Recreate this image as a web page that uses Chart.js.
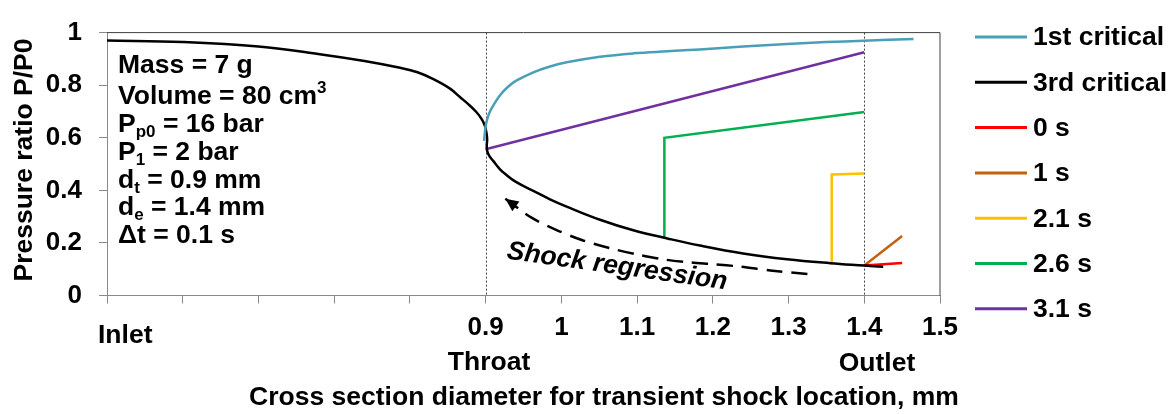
<!DOCTYPE html>
<html><head><meta charset="utf-8">
<style>html,body{margin:0;padding:0;background:#fff;}#wrap{width:1175px;height:414px;}</style>
<script src="https://cdn.jsdelivr.net/npm/chart.js@4.4.0/dist/chart.umd.min.js"></script>
</head><body><div id="wrap"><canvas id="c" width="1175" height="414"></canvas></div>
<script>
const FONT = '"Liberation Sans", Arial, sans-serif';

// ---- data ----
const seriesLabels = ['1st critical', '3rd critical', '0 s', '1 s', '2.1 s', '2.6 s', '3.1 s'];
const seriesColors = ['#4a9fb8', '#000000', '#ff0000', '#c5600e', '#ffc000', '#00b050', '#7030a0'];

const firstCritX = [0.898, 0.899, 0.9, 0.902, 0.905, 0.91, 0.919, 0.93, 0.941, 0.963, 0.985, 1.007, 1.051, 1.095, 1.14, 1.183, 1.24, 1.298, 1.35, 1.399, 1.465];
const firstCritY = [0.588, 0.62, 0.645, 0.67, 0.695, 0.722, 0.762, 0.795, 0.818, 0.849, 0.871, 0.887, 0.908, 0.921, 0.929, 0.936, 0.947, 0.957, 0.964, 0.969, 0.976];

const thirdCritX = [0.4, 0.5, 0.6, 0.681, 0.74, 0.787, 0.81, 0.831, 0.853, 0.866, 0.877, 0.888, 0.895, 0.899, 0.901, 0.902, 0.9015, 0.902, 0.905, 0.91, 0.919, 0.926, 0.94, 0.963, 0.985, 1.007, 1.051, 1.095, 1.14, 1.183, 1.24, 1.298, 1.355, 1.4, 1.425];
const thirdCritY = [0.970, 0.964, 0.947, 0.918, 0.892, 0.866, 0.849, 0.823, 0.787, 0.755, 0.728, 0.697, 0.67, 0.645, 0.62, 0.595, 0.572, 0.55, 0.53, 0.512, 0.48, 0.462, 0.432, 0.398, 0.366, 0.338, 0.288, 0.248, 0.217, 0.19, 0.16, 0.138, 0.123, 0.114, 0.109];

const t0X = [1.4, 1.45];            const t0Y = [0.114, 0.124];
const t1X = [1.4, 1.45];            const t1Y = [0.114, 0.226];
const t21X = [1.357, 1.357, 1.4];   const t21Y = [0.119, 0.46, 0.464];
const t26X = [1.136, 1.136, 1.4];   const t26Y = [0.222, 0.600, 0.698];
const t31X = [0.9, 1.4];            const t31Y = [0.556, 0.925];

// "Shock regression" dashed arrow path
const shockX = [0.926, 0.96, 0.993, 1.026, 1.064, 1.099, 1.133, 1.169, 1.2, 1.236, 1.276, 1.33];
const shockY = [0.368, 0.297, 0.25, 0.212, 0.18, 0.157, 0.138, 0.126, 0.119, 0.11, 0.095, 0.08];

const xTickValues = [0.9, 1.0, 1.1, 1.2, 1.3, 1.4, 1.5];
const xTickLabels = ['0.9', '1', '1.1', '1.2', '1.3', '1.4', '1.5'];
const yTickValues = [0, 0.2, 0.4, 0.6, 0.8, 1.0];
const yTickLabels = ['0', '0.2', '0.4', '0.6', '0.8', '1'];
const markerLines = [0.9, 1.4];

const seriesX = [firstCritX, thirdCritX, t0X, t1X, t21X, t26X, t31X];
const seriesY = [firstCritY, thirdCritY, t0Y, t1Y, t21Y, t26Y, t31Y];
const tensions = [0.4, 0.4, 0, 0, 0, 0, 0];

function pts(xs, ys) { return xs.map((x, i) => ({ x: x, y: ys[i] })); }

const datasets = seriesLabels.map((lab, i) => ({
  label: lab, data: pts(seriesX[i], seriesY[i]), borderColor: seriesColors[i],
  backgroundColor: seriesColors[i], showLine: true, pointRadius: 0, borderWidth: 2.5,
  tension: tensions[i], fill: false, inLegend: true
}));
datasets.push({
  label: 'shock', data: pts(shockX, shockY), borderColor: '#000', showLine: true,
  pointRadius: 0, borderWidth: 2.5, borderDash: [16, 9], tension: 0.3, fill: false, inLegend: false
});

function matchLabel(v, vals, labs) {
  for (let i = 0; i < vals.length; i++) if (Math.abs(v - vals[i]) < 1e-6) return labs[i];
  return '';
}

function rich(ctx, x, y, parts, size) {
  let cx = x;
  for (const p of parts) {
    const s = p.s ? Math.round(size * 0.66) : size;
    ctx.font = 'bold ' + s + 'px ' + FONT;
    const dy = p.s === 'sub' ? 5 : (p.s === 'sup' ? -11 : 0);
    ctx.fillText(p.t, cx, y + dy);
    cx += ctx.measureText(p.t).width;
  }
}

const deco = {
  id: 'deco',
  beforeDatasetsDraw(chart) {
    const ctx = chart.ctx, a = chart.chartArea, xs = chart.scales.x;
    ctx.save();
    ctx.strokeStyle = '#444'; ctx.lineWidth = 1; ctx.setLineDash([2, 2]);
    markerLines.forEach(v => {
      const px = Math.round(xs.getPixelForValue(v)) + 0.5;
      ctx.beginPath(); ctx.moveTo(px, a.top); ctx.lineTo(px, a.bottom); ctx.stroke();
    });
    ctx.restore();
  },
  afterDraw(chart) {
    const ctx = chart.ctx, a = chart.chartArea, xs = chart.scales.x, ys = chart.scales.y;
    ctx.save();
    // top / right frame
    ctx.strokeStyle = '#404040'; ctx.lineWidth = 1;
    ctx.beginPath(); ctx.moveTo(a.left, a.top); ctx.lineTo(a.right, a.top); ctx.lineTo(a.right, a.bottom); ctx.stroke();

    // arrow head
    const p0 = { x: xs.getPixelForValue(shockX[0]), y: ys.getPixelForValue(shockY[0]) };
    const p1 = { x: xs.getPixelForValue(shockX[1]), y: ys.getPixelForValue(shockY[1]) };
    const ang = Math.atan2(p0.y - p1.y, p0.x - p1.x);
    ctx.fillStyle = '#000';
    ctx.beginPath();
    ctx.moveTo(p0.x, p0.y);
    ctx.lineTo(p0.x - 13 * Math.cos(ang) + 6 * Math.sin(ang), p0.y - 13 * Math.sin(ang) - 6 * Math.cos(ang));
    ctx.lineTo(p0.x - 13 * Math.cos(ang) - 6 * Math.sin(ang), p0.y - 13 * Math.sin(ang) + 6 * Math.cos(ang));
    ctx.closePath(); ctx.fill();

    // shock regression text
    ctx.save();
    ctx.translate(616, 274);
    ctx.rotate(8 * Math.PI / 180);
    ctx.font = 'italic bold 26.5px ' + FONT;
    ctx.textAlign = 'center'; ctx.textBaseline = 'alphabetic';
    ctx.fillText('Shock regression', 0, 0);
    ctx.restore();

    // parameter block
    ctx.fillStyle = '#000'; ctx.textAlign = 'left'; ctx.textBaseline = 'alphabetic';
    const lines = [
      [[{ t: 'Mass = 7 g' }], 72.5],
      [[{ t: 'Volume = 80 cm' }, { t: '3', s: 'sup' }], 104],
      [[{ t: 'P' }, { t: 'p0', s: 'sub' }, { t: ' = 16 bar' }], 132],
      [[{ t: 'P' }, { t: '1', s: 'sub' }, { t: ' = 2 bar' }], 160],
      [[{ t: 'd' }, { t: 't', s: 'sub' }, { t: ' = 0.9 mm' }], 187.5],
      [[{ t: 'd' }, { t: 'e', s: 'sub' }, { t: ' = 1.4 mm' }], 215],
      [[{ t: '\u0394t = 0.1 s' }], 243]
    ];
    lines.forEach(l => rich(ctx, 118, l[1], l[0], 26.5));

    // location labels
    ctx.font = 'bold 26.5px ' + FONT;
    ctx.textAlign = 'left'; ctx.fillText('Inlet', 98, 343);
    ctx.textAlign = 'center';
    ctx.fillText('Throat', 489, 370);
    ctx.fillText('Outlet', 877, 371);
    // axis titles
    ctx.fillText('Cross section diameter for transient shock location, mm', 604, 405);
    ctx.save();
    ctx.translate(32, 160); ctx.rotate(-Math.PI / 2);
    ctx.fillText('Pressure ratio P/P0', 0, 0);
    ctx.restore();

    // legend
    ctx.textAlign = 'left'; ctx.textBaseline = 'middle';
    let k = 0;
    chart.data.datasets.forEach(ds => {
      if (!ds.inLegend) return;
      const y = 37 + k * 45.3;
      ctx.strokeStyle = ds.borderColor; ctx.lineWidth = 3; ctx.setLineDash([]);
      ctx.beginPath(); ctx.moveTo(975, y); ctx.lineTo(1027, y); ctx.stroke();
      ctx.fillStyle = '#000';
      ctx.fillText(ds.label, 1033, y + 1);
      k++;
    });
    ctx.restore();
  }
};

const tickFont = { family: FONT, size: 26, weight: 'bold' };
new Chart(document.getElementById('c'), {
  type: 'scatter',
  data: { datasets: datasets },
  options: {
    responsive: false, animation: false, devicePixelRatio: 1,
    layout: { padding: { left: 0, right: 235, top: 22.7, bottom: 0 } },
    plugins: { legend: { display: false }, tooltip: { enabled: false } },
    scales: {
      x: {
        type: 'linear', min: 0.4, max: 1.5,
        afterFit(s) { s.height = 118.5; },
        ticks: { stepSize: 0.1, autoSkip: false, maxRotation: 0, minRotation: 0, padding: 9, color: '#000', font: tickFont,
          callback: v => matchLabel(v, xTickValues, xTickLabels) },
        grid: { drawOnChartArea: false, drawTicks: true, tickLength: 8, color: '#898989' },
        border: { color: '#898989', width: 1 }
      },
      y: {
        type: 'linear', min: 0, max: 1,
        afterFit(s) { s.width = 107; },
        ticks: { stepSize: 0.2, padding: 17, color: '#000', font: tickFont,
          callback: v => matchLabel(v, yTickValues, yTickLabels) },
        grid: { drawOnChartArea: false, drawTicks: true, tickLength: 8, color: '#898989' },
        border: { color: '#898989', width: 1 }
      }
    }
  },
  plugins: [deco]
});
</script></body></html>
